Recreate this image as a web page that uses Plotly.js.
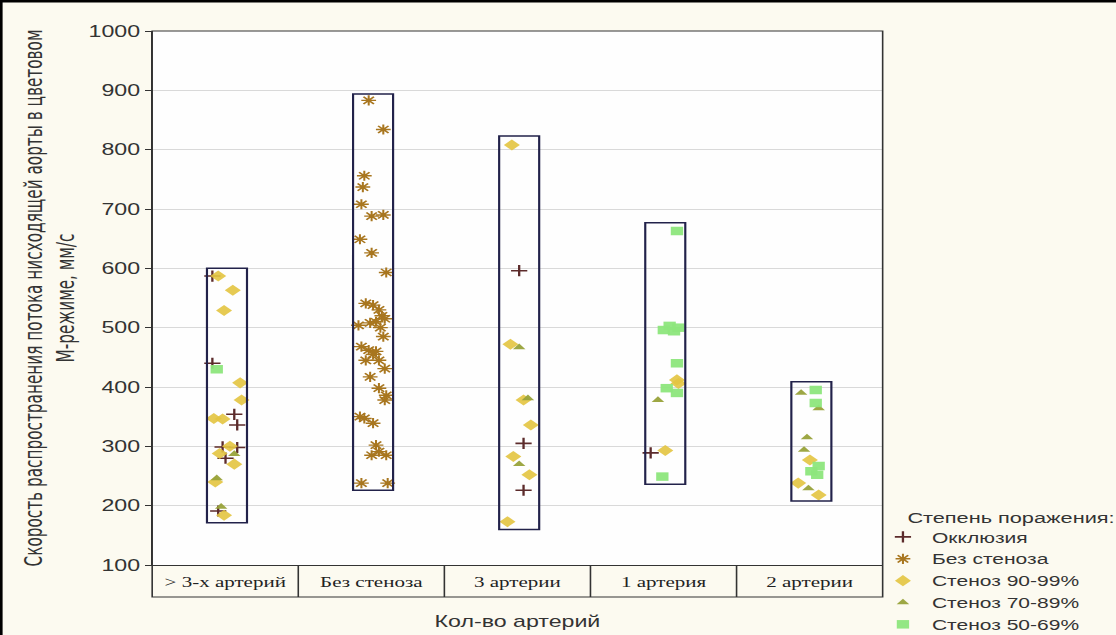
<!DOCTYPE html>
<html><head><meta charset="utf-8">
<script src="https://cdn.plot.ly/plotly-3.0.1.min.js"></script>
<style>
html,body{margin:0;padding:0;background:#fcfaf0;overflow:hidden;}
#chart{width:770px;height:635px;transform:scaleX(1.449351);transform-origin:0 0;}
</style>
</head><body><div id="chart"></div>
<script>
// ---- data ----
const categories = ["> 3-х артерий", "Без стеноза", "3 артерии", "1 артерия", "2 артерии"];
const xAxisTitle = "Кол-во артерий";
const yAxisTitle = "Скорость распространения потока нисходящей аорты в цветовом<br>М-режиме, мм/с";
const legendTitle = "Степень поражения:";
const seriesNames = ["Окклюзия", "Без стеноза", "Стеноз 90-99%", "Стеноз 70-89%", "Стеноз 50-69%"];

// per-category range boxes (min / max)
const rangeMin = [171, 226, 160, 236, 208];
const rangeMax = [600, 894, 823, 677, 409];

// Окклюзия
const occlCat = [0, 0, 0, 0, 0, 0, 0, 0, 2, 2, 2, 3];
const occlJit = [-0.10, -0.10, 0.05, 0.07, -0.03, 0.07, -0.01, -0.06, 0.0, 0.03, 0.03, -0.10];
const occlVal = [587, 440, 354, 336, 299, 298, 280, 191, 596, 305, 226, 289];

// Без стеноза
const noStenCat = [1, 1, 1, 1, 1, 1, 1, 1, 1, 1, 1, 1, 1, 1, 1, 1, 1, 1, 1, 1, 1, 1, 1, 1, 1, 1, 1, 1, 1, 1, 1, 1, 1, 1, 1, 1, 1, 1, 1, 1];
const noStenJit = [-0.03, 0.07, -0.06, -0.07, -0.08, -0.01, 0.07, -0.09, -0.01, 0.09, -0.05, 0.0, 0.04, 0.06, 0.08, 0.02, -0.02, -0.10, 0.05, 0.07, -0.08, -0.03, 0.02, 0.0, -0.05, 0.04, 0.08, -0.02, 0.04, 0.09, 0.08, -0.09, -0.06, 0.0, 0.02, 0.04, -0.01, 0.09, -0.08, 0.10];
const noStenVal = [883, 834, 756, 737, 708, 688, 690, 649, 626, 593, 541, 538, 530, 520, 515, 510, 508, 504, 500, 485, 468, 462, 460, 455, 445, 445, 431, 417, 398, 386, 378, 350, 347, 339, 302, 291, 285, 285, 238, 238];

// Стеноз 90-99%
const s90Cat = [0, 0, 0, 0, 0, 0, 0, 0, 0, 0, 0, 0, 2, 2, 2, 2, 2, 2, 2, 3, 3, 3, 4, 4, 4];
const s90Jit = [-0.06, 0.04, -0.02, 0.09, 0.10, -0.09, -0.03, 0.02, -0.05, 0.05, -0.08, -0.02, -0.05, -0.06, 0.03, 0.08, -0.04, 0.07, -0.08, 0.08, 0.09, 0.0, -0.01, -0.09, 0.05];
const s90Val = [587, 563, 529, 407, 378, 347, 346, 300, 288, 270, 240, 184, 808, 472, 378, 336, 283, 252, 173, 412, 406, 293, 277, 238, 218];

// Стеноз 70-89%
const s70Cat = [0, 0, 0, 2, 2, 2, 3, 4, 4, 4, 4, 4];
const s70Jit = [0.05, -0.07, -0.04, 0.0, 0.06, 0.0, -0.05, -0.07, 0.05, -0.03, -0.05, -0.02];
const s70Val = [287, 246, 198, 467, 381, 270, 378, 390, 364, 315, 294, 229];

// Стеноз 50-69%
const s50Cat = [0, 3, 3, 3, 3, 3, 3, 3, 3, 3, 4, 4, 4, 4, 4];
const s50Jit = [-0.07, 0.08, 0.03, 0.09, -0.01, 0.06, 0.08, 0.01, 0.08, -0.02, 0.03, 0.03, 0.05, 0.0, 0.04];
const s50Val = [430, 663, 503, 500, 496, 494, 440, 398, 390, 249, 395, 373, 267, 258, 252];

// ---- styling (the reference image is stretched horizontally; the div is scaled in x) ----
const W = 770, H = 635;
const mL = 105, mR = 161, mT = 31, mB = 70;
const plotW = W - mL - mR;   // 504
const plotH = H - mT - mB;   // 534
const boxShift = 0.012;
const boxHalf = 0.137;
const fontSans = "Arial, 'Liberation Sans', sans-serif";

function xs(cats, jit) { return cats.map((c, i) => c + boxShift + jit[i]); }

const traces = [
  {name: seriesNames[0], x: xs(occlCat, occlJit), y: occlVal, type: "scatter", mode: "markers",
   marker: {symbol: "cross-thin-open", size: 8, color: "#5c2b2b", line: {color: "#5c2b2b", width: 1.6}}},
  {name: seriesNames[1], x: xs(noStenCat, noStenJit), y: noStenVal, type: "scatter", mode: "markers",
   marker: {symbol: "asterisk-open", size: 8.5, color: "#a8761f", line: {color: "#a8761f", width: 1.4}}},
  {name: seriesNames[2], x: xs(s90Cat, s90Jit), y: s90Val, type: "scatter", mode: "markers",
   marker: {symbol: "diamond", size: 8.5, color: "#e3c440", opacity: 0.9}},
  {name: seriesNames[3], x: xs(s70Cat, s70Jit), y: s70Val, type: "scatter", mode: "markers",
   marker: {symbol: "triangle-up", size: 7.5, color: "#98a23a", opacity: 0.95}},
  {name: seriesNames[4], x: xs(s50Cat, s50Jit), y: s50Val, type: "scatter", mode: "markers",
   marker: {symbol: "square", size: 8.5, color: "#8de67c", opacity: 0.95}}
];

const tableDepth = -32 / plotH;

const shapes = [];
categories.forEach((c, i) => {
  shapes.push({type: "rect", xref: "x", yref: "y", x0: i + boxShift - boxHalf, x1: i + boxShift + boxHalf,
    y0: rangeMin[i], y1: rangeMax[i], line: {color: "#22224a", width: 1.5}, fillcolor: "rgba(0,0,0,0)", layer: "above"});
});
// frame incl. category table
shapes.push({type: "rect", xref: "paper", yref: "paper", x0: 0, x1: 1, y0: tableDepth, y1: 1,
  line: {color: "#333", width: 1.1}, fillcolor: "rgba(0,0,0,0)"});
for (let k = 0; k < categories.length - 1; k++) {
  shapes.push({type: "line", xref: "x", yref: "paper", x0: k + 0.5, x1: k + 0.5, y0: tableDepth, y1: 0,
    line: {color: "#333", width: 1.1}});
}
// outer page border (top and left)
shapes.push({type: "line", xref: "paper", yref: "paper", x0: -mL / plotW, x1: (W - mL) / plotW, y0: 1 + 30 / plotH, y1: 1 + 30 / plotH,
  line: {color: "#000", width: 3}});
shapes.push({type: "line", xref: "paper", yref: "paper", x0: -(mL - 0.8) / plotW, x1: -(mL - 0.8) / plotW, y0: -mB / plotH, y1: 1 + mT / plotH,
  line: {color: "#000", width: 2}});

const layout = {
  width: W, height: H,
  margin: {l: mL, r: mR, t: mT, b: mB, autoexpand: false},
  paper_bgcolor: "#fcfaf0",
  plot_bgcolor: "#fefefe",
  showlegend: true,
  xaxis: {
    range: [-0.5, 4.5], tickvals: [0, 1, 2, 3, 4], ticktext: categories,
    showgrid: false, zeroline: false, showline: true, linecolor: "#333", linewidth: 1.1,
    ticks: "", ticklabelstandoff: 4,
    tickfont: {family: "'Liberation Serif', 'Times New Roman', serif", size: 14.5, color: "#222"},
    title: {text: xAxisTitle, font: {family: fontSans, size: 16, color: "#333"}, standoff: 26},
    fixedrange: true
  },
  yaxis: {
    range: [100, 1000], tickvals: [100, 200, 300, 400, 500, 600, 700, 800, 900, 1000],
    showgrid: true, gridcolor: "#d9d9d9", gridwidth: 1, zeroline: false,
    showline: true, linecolor: "#333", linewidth: 1.1,
    ticks: "outside", ticklen: 4, tickcolor: "#333",
    tickfont: {family: fontSans, size: 16, color: "#333"},
    title: {text: yAxisTitle, font: {family: "'Liberation Sans Narrow', 'DejaVu Sans Condensed', sans-serif", size: 17, color: "#333"}, standoff: 4.5},
    fixedrange: true
  },
  legend: {
    x: (603 - mL) / plotW, xanchor: "left", y: (565 - 521) / plotH, yanchor: "top",
    bgcolor: "rgba(0,0,0,0)", font: {family: fontSans, size: 14.5, color: "#333"},
    tracegroupgap: 0
  },
  annotations: [
    {text: legendTitle, xref: "paper", yref: "paper", x: (624 - mL) / plotW, y: (565 - 517) / plotH,
     xanchor: "left", yanchor: "middle", showarrow: false, font: {family: fontSans, size: 15, color: "#333"}}
  ],
  shapes: shapes
};

Plotly.newPlot("chart", traces, layout, {displayModeBar: false, staticPlot: true});
</script></body></html>
